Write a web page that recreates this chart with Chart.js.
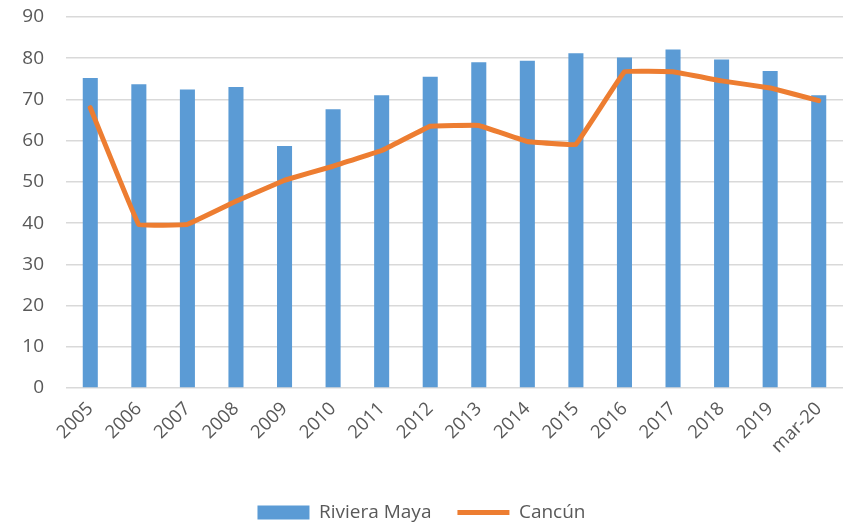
<!DOCTYPE html>
<html>
<head>
<meta charset="utf-8">
<script src="https://cdn.jsdelivr.net/npm/chart.js@4/dist/chart.umd.min.js"></script>
<style>
  html, body { margin: 0; padding: 0; background: #fff; }
  #wrap { width: 846px; height: 525px; }
</style>
</head>
<body>
<div id="wrap"><canvas id="grafico" width="846" height="525"></canvas></div>
<script>
// datos
const anios = ['2005', '2006', '2007', '2008', '2009', '2010', '2011', '2012',
               '2013', '2014', '2015', '2016', '2017', '2018', '2019', 'mar-20'];
const rivieraMaya = [75.2, 73.7, 72.4, 73.0, 58.7, 67.6, 71.0, 75.5,
                     79.0, 79.4, 81.2, 80.2, 82.1, 79.7, 76.9, 71.0];
const cancun = [68.0, 39.6, 39.7, 45.3, 50.4, 53.8, 57.6, 63.5,
                63.7, 59.8, 59.1, 76.7, 76.7, 74.5, 72.8, 69.7];
const ticksY = [0, 10, 20, 30, 40, 50, 60, 70, 80, 90];

document.addEventListener('DOMContentLoaded', () => {
    const gris = '#595959';
    const fuente = '"Open Sans", Lato, sans-serif';

    // el padding de la leyenda separa los items, luego la bajamos un poco
    const bajarLeyenda = {
        id: 'bajarLeyenda',
        afterLayout(chart) {
            if (chart.legend) {
                chart.legend.top += 7;
                chart.legend.bottom += 7;
            }
        }
    };

    const ctx = document.getElementById('grafico');
    new Chart(ctx, {
        type: 'bar',
        data: {
            labels: anios,
            datasets: [{
                label: 'Riviera Maya',
                data: rivieraMaya,
                backgroundColor: '#5B9BD5',
                barPercentage: 0.31,
                categoryPercentage: 1,
                order: 1,
                pointStyle: 'rect'
            }, {
                type: 'line',
                label: 'Cancún',
                data: cancun,
                borderColor: '#ED7D31',
                backgroundColor: '#ED7D31',
                borderWidth: 5,
                borderCapStyle: 'round',
                borderJoinStyle: 'round',
                pointRadius: 0,
                tension: 0.04,
                order: 0,
                pointStyle: 'line'
            }]
        },
        options: {
            responsive: false,
            animation: false,
            layout: { padding: { top: 17, right: 3, left: 0, bottom: 0 } },
            plugins: {
                tooltip: { enabled: false },
                legend: {
                    position: 'bottom',
                    labels: {
                        usePointStyle: true,
                        pointStyleWidth: 52,
                        boxHeight: 14,
                        padding: 26,
                        color: gris,
                        font: { family: fuente, size: 19 },
                        sort: (a, b) => a.datasetIndex - b.datasetIndex
                    }
                }
            },
            scales: {
                x: {
                    grid: { display: false },
                    border: { display: false },
                    ticks: {
                        color: gris,
                        font: { family: fuente, size: 18.5 },
                        minRotation: 45,
                        maxRotation: 45,
                        padding: 2
                    },
                    afterFit: (scale) => { scale.height = 82; }
                },
                y: {
                    min: 0,
                    max: 90,
                    afterBuildTicks: (scale) => {
                        scale.ticks = ticksY.map(v => ({ value: v }));
                    },
                    grid: { color: '#d9d9d9', lineWidth: 1.5, drawTicks: false },
                    border: { display: false },
                    ticks: {
                        color: gris,
                        font: { family: fuente, size: 19 },
                        padding: 22
                    },
                    afterFit: (scale) => {
                        scale.width = 66;
                        scale.paddingTop = 0;
                        scale.paddingBottom = 0;
                    }
                }
            }
        },
        plugins: [bajarLeyenda]
    });
});
</script>
</body>
</html>
